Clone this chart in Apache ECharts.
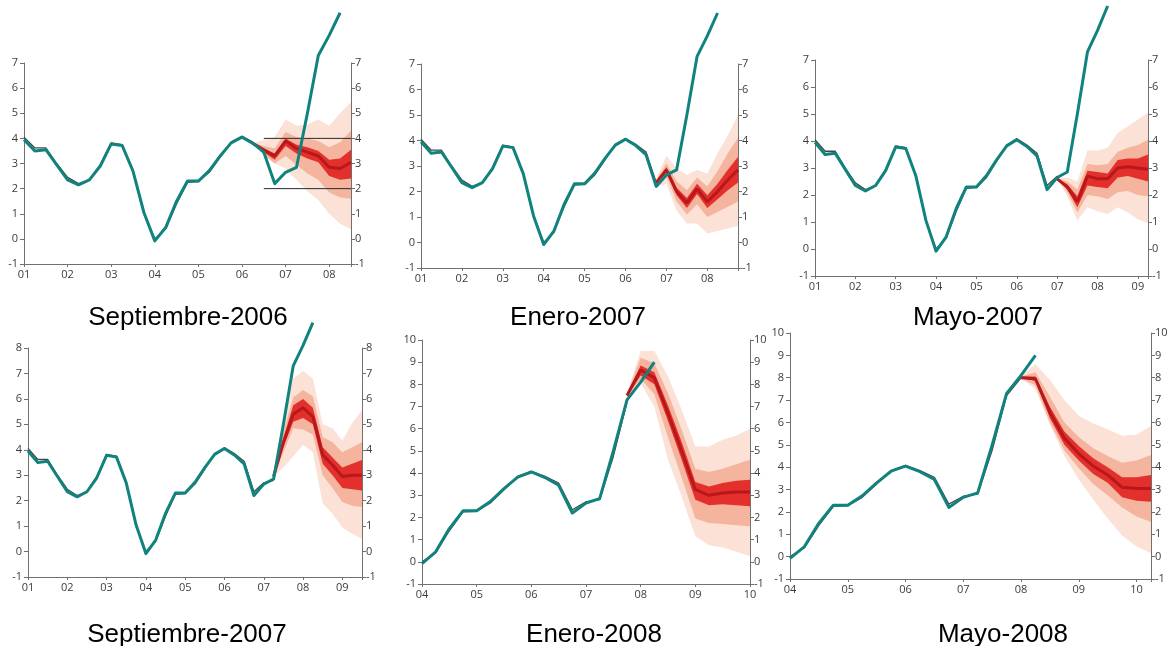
<!DOCTYPE html>
<html>
<head>
<meta charset="utf-8">
<script src="https://cdn.jsdelivr.net/npm/echarts@6/dist/echarts.min.js"></script>
<style>
  html, body { margin: 0; padding: 0; background: #ffffff; }
  #chart { width: 1171px; height: 646px; }
</style>
</head>
<body>
<div id="chart"></div>
<script>
// ---- Actual CPI inflation, % y/y, quarterly from 2001 Q1 ----
const actualStart = 2001;
const actual = [
  3.95, 3.5, 3.55, 2.95,
  2.35, 2.15, 2.35, 2.9,
  3.78, 3.72, 2.7, 1.05,
  -0.08, 0.45, 1.5, 2.3,
  2.3, 2.72, 3.3, 3.82,
  4.05, 3.8, 3.45, 2.2,
  2.65, 2.85, 5.0, 7.3,
  8.1, 9.0
];

// ---- Inflation as published in each report, quarterly from 2001 Q1 ----
const published = [
  4.05, 3.62, 3.62, 3.0,
  2.45, 2.2, 2.35, 2.95,
  3.82, 3.75, 2.72, 1.0,
  0.0, 0.4, 1.4, 2.25,
  2.28, 2.65, 3.25, 3.85,
  4.08, 3.85, 3.55, 2.35,
  2.7, 2.8, 4.75, 7.2,
  8.0
];

// ---- Reports ----
const reportTitles = ['Septiembre-2006', 'Enero-2007', 'Mayo-2007', 'Septiembre-2007', 'Enero-2008', 'Mayo-2008'];
const xFrom = [2001, 2001, 2001, 2001, 2004, 2004];
const xTo = [2008.5, 2008.75, 2009.25, 2009.5, 2010, 2010.25];
const yFrom = [-1, -1, -1, -1, -1, -1];
const yTo = [7, 7, 7, 8, 10, 10];
const fanStart = [2006.25, 2006.75, 2007.0, 2007.25, 2007.75, 2008.0];

// Target range shown in the September 2006 report
const targetRange = [2, 4];
const targetFrom = 2006.5;
const targetTo = 2008.5;

// ---- Projection fans (quarterly from the fan start): central path and 30/60/90% bands ----
const sep06Mid  = [3.8, 3.55, 3.3, 3.9, 3.6, 3.45, 3.3, 2.85, 2.8, 3.05];
const sep06Hi30 = [3.8, 3.6, 3.4, 4.0, 3.75, 3.65, 3.5, 3.15, 3.2, 3.55];
const sep06Lo30 = [3.8, 3.45, 3.15, 3.7, 3.4, 3.2, 3.05, 2.5, 2.35, 2.4];
const sep06Hi60 = [3.8, 3.7, 3.6, 4.25, 4.05, 4.0, 3.9, 3.65, 3.85, 4.3];
const sep06Lo60 = [3.8, 3.35, 3.0, 3.3, 2.95, 2.6, 2.35, 1.85, 1.65, 1.6];
const sep06Hi90 = [3.8, 3.95, 4.05, 4.75, 4.5, 4.55, 4.75, 4.5, 5.0, 5.45];
const sep06Lo90 = [3.8, 3.4, 3.0, 2.8, 2.35, 1.9, 1.55, 1.0, 0.6, 0.38];

const ene07Mid  = [2.35, 2.85, 2.0, 1.55, 2.1, 1.6, 2.0, 2.45, 2.85];
const ene07Hi30 = [2.4, 2.95, 2.15, 1.75, 2.3, 1.85, 2.3, 2.85, 3.35];
const ene07Lo30 = [2.3, 2.75, 1.85, 1.35, 1.9, 1.35, 1.7, 2.05, 2.35];
const ene07Hi60 = [2.45, 3.1, 2.4, 2.05, 2.55, 2.2, 2.8, 3.5, 4.1];
const ene07Lo60 = [2.25, 2.6, 1.6, 1.1, 1.5, 1.0, 1.2, 1.4, 1.6];
const ene07Hi90 = [2.5, 3.4, 2.9, 2.65, 2.85, 2.7, 3.5, 4.2, 5.0];
const ene07Lo90 = [2.2, 2.3, 1.25, 0.75, 0.75, 0.35, 0.45, 0.55, 0.65];

const may07Mid  = [2.6, 2.3, 1.75, 2.7, 2.6, 2.6, 3.0, 3.05, 3.0, 2.95];
const may07Hi30 = [2.6, 2.4, 1.95, 2.9, 2.85, 2.8, 3.3, 3.35, 3.35, 3.5];
const may07Lo30 = [2.6, 2.2, 1.55, 2.35, 2.3, 2.25, 2.65, 2.7, 2.6, 2.5];
const may07Hi60 = [2.6, 2.5, 2.2, 3.15, 3.1, 3.15, 3.6, 3.75, 3.85, 4.05];
const may07Lo60 = [2.6, 2.1, 1.35, 2.0, 1.95, 1.85, 2.1, 2.15, 2.0, 1.95];
const may07Hi90 = [2.6, 2.65, 2.5, 3.65, 3.65, 3.75, 4.3, 4.55, 4.8, 5.05];
const may07Lo90 = [2.6, 1.95, 1.05, 1.55, 1.4, 1.3, 1.55, 1.35, 1.1, 0.95];

const sep07Mid  = [2.95, 4.3, 5.4, 5.65, 5.3, 3.8, 3.4, 2.95, 3.0, 3.0];
const sep07Hi30 = [2.95, 4.45, 5.75, 6.0, 5.65, 4.1, 3.7, 3.3, 3.45, 3.6];
const sep07Lo30 = [2.95, 4.1, 5.1, 5.25, 5.0, 3.45, 3.0, 2.5, 2.45, 2.4];
const sep07Hi60 = [2.95, 4.7, 6.05, 6.35, 6.1, 4.5, 4.3, 3.9, 4.1, 4.3];
const sep07Lo60 = [2.95, 3.9, 4.85, 4.8, 4.6, 3.0, 2.5, 1.95, 1.8, 1.75];
const sep07Hi90 = [2.95, 5.4, 6.8, 7.1, 6.8, 5.0, 4.85, 4.35, 5.05, 5.55];
const sep07Lo90 = [2.95, 3.3, 3.75, 4.2, 3.9, 1.9, 1.5, 0.95, 0.7, 0.5];

const ene08Mid  = [7.5, 8.65, 8.3, 6.7, 5.0, 3.25, 3.0, 3.1, 3.15, 3.15];
const ene08Hi30 = [7.55, 8.85, 8.55, 7.05, 5.4, 3.6, 3.4, 3.55, 3.65, 3.7];
const ene08Lo30 = [7.45, 8.4, 8.0, 6.35, 4.6, 2.8, 2.55, 2.6, 2.55, 2.5];
const ene08Hi60 = [7.55, 9.2, 8.95, 7.6, 5.95, 4.2, 4.05, 4.2, 4.4, 4.6];
const ene08Lo60 = [7.45, 8.25, 7.55, 5.6, 3.8, 1.95, 1.75, 1.7, 1.65, 1.6];
const ene08Hi90 = [7.6, 9.5, 9.5, 8.35, 6.85, 5.2, 5.2, 5.5, 5.7, 6.0];
const ene08Lo90 = [7.4, 8.05, 7.0, 4.6, 2.95, 1.15, 0.75, 0.65, 0.45, 0.25];

const may08Mid  = [8.0, 7.95, 6.45, 5.3, 4.6, 4.05, 3.65, 3.1, 3.05, 3.05];
const may08Hi30 = [8.05, 8.05, 6.7, 5.6, 4.95, 4.4, 4.0, 3.55, 3.55, 3.65];
const may08Lo30 = [8.0, 7.85, 6.2, 5.0, 4.3, 3.7, 3.3, 2.65, 2.5, 2.45];
const may08Hi60 = [8.05, 8.25, 7.15, 6.0, 5.35, 4.85, 4.5, 4.2, 4.3, 4.55];
const may08Lo60 = [8.0, 7.65, 6.0, 4.75, 3.95, 3.25, 2.75, 2.2, 1.8, 1.55];
const may08Hi90 = [8.1, 8.6, 7.9, 7.0, 6.3, 5.95, 5.7, 5.4, 5.45, 5.85];
const may08Lo90 = [7.95, 7.5, 5.9, 4.5, 3.45, 2.55, 1.7, 0.95, 0.45, 0.15];

const fans = [
  { mid: sep06Mid, hi30: sep06Hi30, lo30: sep06Lo30, hi60: sep06Hi60, lo60: sep06Lo60, hi90: sep06Hi90, lo90: sep06Lo90 },
  { mid: ene07Mid, hi30: ene07Hi30, lo30: ene07Lo30, hi60: ene07Hi60, lo60: ene07Lo60, hi90: ene07Hi90, lo90: ene07Lo90 },
  { mid: may07Mid, hi30: may07Hi30, lo30: may07Lo30, hi60: may07Hi60, lo60: may07Lo60, hi90: may07Hi90, lo90: may07Lo90 },
  { mid: sep07Mid, hi30: sep07Hi30, lo30: sep07Lo30, hi60: sep07Hi60, lo60: sep07Lo60, hi90: sep07Hi90, lo90: sep07Lo90 },
  { mid: ene08Mid, hi30: ene08Hi30, lo30: ene08Lo30, hi60: ene08Hi60, lo60: ene08Lo60, hi90: ene08Hi90, lo90: ene08Lo90 },
  { mid: may08Mid, hi30: may08Hi30, lo30: may08Lo30, hi60: may08Hi60, lo60: may08Lo60, hi90: may08Hi90, lo90: may08Lo90 }
];

// ---- Layout: plot boxes [left, top, width, height] and title anchors ----
const boxes = [
  [24, 63, 327, 201], [421, 64, 317, 204], [815, 60, 333, 216],
  [28, 348, 334, 229], [422, 340, 328, 244], [790, 333, 361, 246]
];
const titleAnchors = [[188, 305], [578, 305], [978, 305], [187, 622], [594, 622], [1003, 622]];

const COLORS = {
  actual: '#10837e', published: '#4a4444', mid: '#b8171c',
  b30: '#e3302c', b60: '#f5b49d', b90: '#fbe1d6', axis: '#707070', label: '#3c3c3c', target: '#2a2a2a'
};
const LABEL_FONT = 'Open Sans, DejaVu Sans, sans-serif';

const Q = 0.25;
const quarterX = (start, i) => start + i * Q;
const pairs = (start, arr) => arr.map((v, i) => [quarterX(start, i), v]);

// One filled polygon per band: upper edge left to right, lower edge back
function bandSeries(i, start, lo, hi, color) {
  const rows = lo.map((v, k) => [quarterX(start, k), v, hi[k]]);
  return {
    type: 'custom', xAxisIndex: i, yAxisIndex: 2 * i, silent: true, animation: false, z: 1,
    data: rows,
    encode: { x: 0, y: [1, 2] },
    renderItem: (params, api) => {
      if (params.dataIndex !== 0) return null;
      const upper = rows.map(r => api.coord([r[0], r[2]]));
      const lower = rows.slice().reverse().map(r => api.coord([r[0], r[1]]));
      return { type: 'polygon', shape: { points: upper.concat(lower) }, style: { fill: color } };
    }
  };
}

const grid = [], xAxis = [], yAxis = [], series = [], title = [];

boxes.forEach((b, i) => {
  grid.push({ left: b[0], top: b[1], width: b[2], height: b[3], containLabel: false });

  xAxis.push({
    gridIndex: i, type: 'value', min: xFrom[i], max: xTo[i], interval: 1,
    axisLine: { onZero: false, lineStyle: { color: COLORS.axis, width: 1 } },
    axisTick: { show: true, inside: false, length: 3, lineStyle: { color: COLORS.axis } },
    axisLabel: {
      margin: 5, color: COLORS.label, fontFamily: LABEL_FONT, fontSize: 11,
      formatter: v => Number.isInteger(v) ? String(v % 100).padStart(2, '0') : ''
    },
    splitLine: { show: false }
  });

  ['left', 'right'].forEach(pos => {
    yAxis.push({
      gridIndex: i, type: 'value', position: pos, min: yFrom[i], max: yTo[i], interval: 1,
      axisLine: { show: true, onZero: false, lineStyle: { color: COLORS.axis, width: 1 } },
      axisTick: { show: true, length: 4, lineStyle: { color: COLORS.axis } },
      axisLabel: { margin: pos === 'left' ? 6 : 4, color: COLORS.label, fontFamily: LABEL_FONT, fontSize: 11 },
      splitLine: { show: false }
    });
  });

  const f = fans[i], s0 = fanStart[i];
  const base = { xAxisIndex: i, yAxisIndex: 2 * i, type: 'line', symbol: 'none', silent: true, animation: false };

  // Bands, outermost first
  series.push(bandSeries(i, s0, f.lo90, f.hi90, COLORS.b90));
  series.push(bandSeries(i, s0, f.lo60, f.hi60, COLORS.b60));
  series.push(bandSeries(i, s0, f.lo30, f.hi30, COLORS.b30));

  // Central projection
  series.push(Object.assign({}, base, {
    data: pairs(s0, f.mid), lineStyle: { color: COLORS.mid, width: 3 }, z: 2
  }));

  // Target range lines
  if (i === 0) {
    targetRange.forEach(t => {
      series.push(Object.assign({}, base, {
        data: [[targetFrom, t], [targetTo, t]], lineStyle: { color: COLORS.target, width: 1 }, z: 3
      }));
    });
  }

  // Published path up to the fan start
  const pub = pairs(actualStart, published).filter(p => p[0] >= xFrom[i] - 1e-9 && p[0] <= s0 + 1e-9);
  series.push(Object.assign({}, base, {
    data: pub, lineStyle: { color: COLORS.published, width: 1.3 }, z: 4
  }));

  // Actual inflation
  const act = pairs(actualStart, actual).filter(p => p[0] >= xFrom[i] - 1e-9);
  series.push(Object.assign({}, base, {
    data: act, clip: false, lineStyle: { color: COLORS.actual, width: 3, join: 'round' }, z: 5
  }));

  title.push({
    text: reportTitles[i], left: titleAnchors[i][0], top: titleAnchors[i][1], textAlign: 'center', padding: 0,
    textStyle: { fontFamily: 'Liberation Sans, Arial, sans-serif', fontSize: 26, fontWeight: 'normal', color: '#000' }
  });
});

const chart = echarts.init(document.getElementById('chart'), null, { renderer: 'canvas' });
chart.setOption({ animation: false, backgroundColor: '#ffffff', title, grid, xAxis, yAxis, series });
</script>
</body>
</html>
